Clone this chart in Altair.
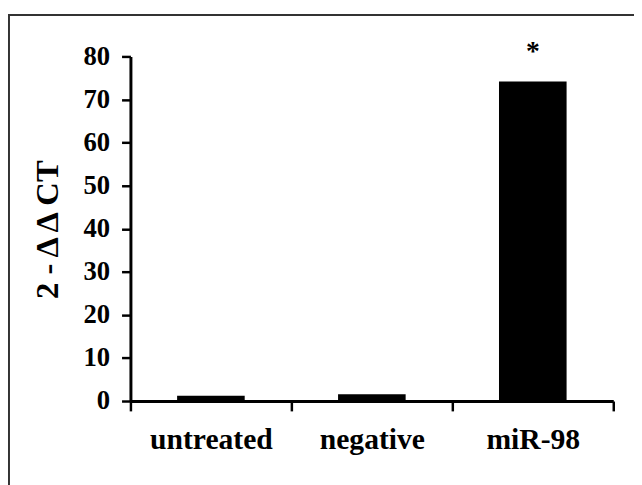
import altair as alt
import pandas as pd

# ---- data ----
categories = ["untreated", "negative", "miR-98"]
values = [1.2, 1.6, 74.2]
annotations = ["", "", "*"]
y_ticks = [0, 10, 20, 30, 40, 50, 60, 70, 80]
y_title = "2 - \u0394 \u0394 CT"

df = pd.DataFrame({"group": categories, "value": values, "note": annotations})

FONT = "Liberation Serif"
W, H = 489, 349

x_enc = alt.X(
    "group:N",
    sort=categories,
    scale=alt.Scale(paddingInner=0, paddingOuter=0),
    axis=alt.Axis(
        title=None,
        tickBand="extent",
        labelAngle=0,
        labelFont=FONT,
        labelFontWeight="bold",
        labelFontSize=30,
        labelColor="black",
        labelPadding=14,
        tickSize=10,
        tickWidth=2.5,
        tickColor="black",
        domainColor="black",
        domainWidth=3,
    ),
)

y_enc = alt.Y(
    "value:Q",
    scale=alt.Scale(domain=[0, 80], nice=False),
    axis=alt.Axis(
        title=y_title,
        values=y_ticks,
        grid=False,
        labelFont=FONT,
        labelFontWeight="bold",
        labelFontSize=27,
        labelColor="black",
        labelPadding=12,
        tickSize=9,
        tickWidth=2.5,
        tickColor="black",
        domainColor="black",
        domainWidth=3,
        titleFont=FONT,
        titleFontWeight="bold",
        titleFontSize=33,
        titleColor="black",
        titleX=-84,
        titleY=175,
        titleAlign="center",
        titleBaseline="middle",
        titleAngle=270,
    ),
)

bars = alt.Chart(df).mark_bar(color="black", width={"band": 0.42}).encode(
    x=x_enc, y=y_enc
)

stars = alt.Chart(df).mark_text(
    font=FONT, fontWeight="bold", fontSize=28, dy=-30, baseline="middle", color="black"
).encode(x=alt.X("group:N", sort=categories), y="value:Q", text="note:N")

frame_df = pd.DataFrame({"k": [0]})
top_line = alt.Chart(frame_df).mark_rule(color="#333333", strokeWidth=2).encode(
    x=alt.value(-124), x2=alt.value(520), y=alt.value(-42)
)
left_line = alt.Chart(frame_df).mark_rule(color="#333333", strokeWidth=2).encode(
    x=alt.value(-123), y=alt.value(-42), y2=alt.value(440)
)

chart = (
    alt.layer(bars, stars, top_line, left_line)
    .properties(
        width=W,
        height=H,
        padding={"left": 124, "top": 46, "right": 21, "bottom": 82},
        autosize=alt.AutoSizeParams(type="none"),
        background="white",
    )
    .configure_view(stroke=None)
)

chart.save("out.html", embed_options={"renderer": "svg", "actions": False})
